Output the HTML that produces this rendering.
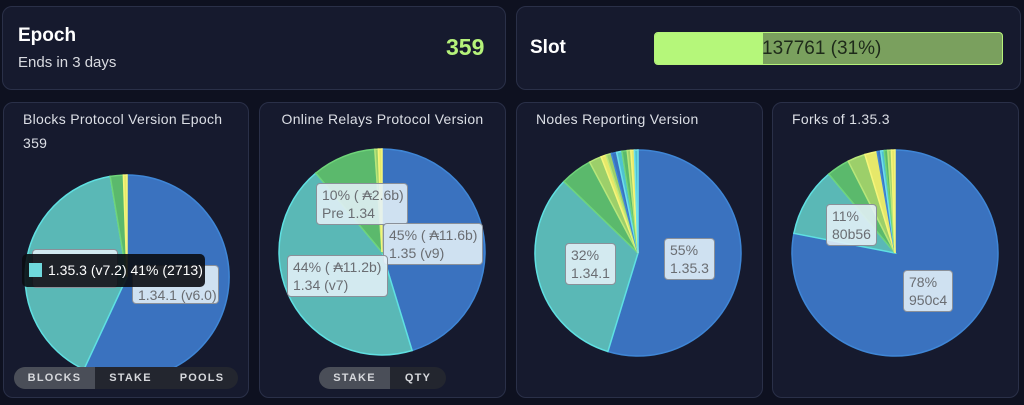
<!DOCTYPE html>
<html><head><meta charset="utf-8"><style>
*{margin:0;padding:0;box-sizing:border-box}
body{width:1024px;height:405px;background:#0e1120;font-family:"Liberation Sans",sans-serif;position:relative;overflow:hidden;color:#e4e6ec}
.card{position:absolute;background:#161a2e;border:1px solid #2a3048;border-radius:10px}
.abs{position:absolute;white-space:nowrap}
.t{font-size:14px;color:#dcdfe6;letter-spacing:0.3px}
.lbl{position:absolute;background:rgba(228,240,248,0.88);border:1px solid #8a9099;border-radius:4px;color:#6a6d72;font-size:14px;line-height:18px;padding:2px 5px;white-space:nowrap}
.pill{position:absolute;height:22px;border-radius:11px;background:#23262f;display:flex;overflow:hidden;font-size:11px;font-weight:bold;letter-spacing:1.2px;color:#d6d8dc}
.pill div{display:flex;align-items:center;justify-content:center}
.pill .on{background:#4a4e58}
svg{position:absolute;left:0;top:0}
</style></head><body>
<div class="card" style="left:2px;top:6px;width:504px;height:84px"></div>
<div class="abs" style="left:18px;top:25px;font-size:19px;font-weight:bold;color:#fff">Epoch</div>
<div class="abs" style="left:18px;top:54px;font-size:15px;color:#d8dae0">Ends in 3 days</div>
<div class="abs" style="left:446px;top:34px;font-size:23px;font-weight:bold;color:#b5f27a">359</div>
<div class="card" style="left:516px;top:6px;width:505px;height:84px"></div>
<div class="abs" style="left:530px;top:37px;font-size:19px;font-weight:bold;color:#fff">Slot</div>
<div class="abs" style="left:654px;top:32px;width:349px;height:33px;border:1px solid #b5f27a;border-radius:4px;background:#7aa05e;overflow:hidden">
 <div style="position:absolute;left:0;top:0;width:108px;height:100%;background:#b5f77a"></div>
 <div style="position:absolute;left:107px;top:5px;font-size:19px;color:#1e2a1a">137761 (31%)</div>
</div>

<div class="card" style="left:3px;top:102px;width:246px;height:296px"></div>
<div class="card" style="left:259px;top:102px;width:247px;height:296px"></div>
<div class="card" style="left:516px;top:102px;width:247px;height:296px"></div>
<div class="card" style="left:772px;top:102px;width:247px;height:296px"></div>

<div class="abs t" style="left:23px;top:111px">Blocks Protocol Version Epoch</div>
<div class="abs t" style="left:23px;top:135px">359</div>
<div class="abs t" style="left:259px;width:247px;text-align:center;top:111px">Online Relays Protocol Version</div>
<div class="abs t" style="left:536px;top:111px">Nodes Reporting Version</div>
<div class="abs t" style="left:792px;top:111px">Forks of 1.35.3</div>

<svg width="1024" height="405" id="s"></svg>

<div class="lbl" style="left:32px;top:249px;width:86px;height:39px"></div>
<div class="lbl" style="left:132px;top:265px;width:87px;height:39px">&nbsp;<br>1.34.1 (v6.0)</div>
<div class="abs" style="left:22px;top:254px;width:183px;height:33px;background:rgba(10,12,18,0.9);border-radius:5px;color:#fff;font-size:14px;line-height:33px;padding-left:26px">1.35.3 (v7.2) 41% (2713)<div style="position:absolute;left:7px;top:9px;width:13px;height:14px;background:#6fd9dc"></div></div>
<div class="pill" style="left:14px;top:367px;width:224px"><div class="on" style="width:81px">BLOCKS</div><div style="width:71px">STAKE</div><div style="width:72px">POOLS</div></div>

<div class="lbl" style="left:316px;top:183px;width:92px">10% ( ₳2.6b)<br>Pre 1.34</div>
<div class="lbl" style="left:383px;top:223px;width:100px">45% ( ₳11.6b)<br>1.35 (v9)</div>
<div class="lbl" style="left:287px;top:255px;width:101px">44% ( ₳11.2b)<br>1.34 (v7)</div>
<div class="pill" style="left:319px;top:367px;width:127px"><div class="on" style="width:71px">STAKE</div><div style="width:56px">QTY</div></div>

<div class="lbl" style="left:565px;top:243px">32%<br>1.34.1</div>
<div class="lbl" style="left:664px;top:238px">55%<br>1.35.3</div>
<div class="lbl" style="left:826px;top:204px">11%<br>80b56</div>
<div class="lbl" style="left:903px;top:270px">78%<br>950c4</div>

<script>
var C={b:['#3a72bf','#3f86d6'],t:['#5ab8b6','#5fe0e2'],g:['#5bb96c','#6fd47a'],l:['#9ccf6a','#b8e67a'],y:['#e6e86a','#f5f57a'],c:['#4fc3d0','#6fe0ea']};
var pies=[
 [127,277,102,[[0,205,'b'],[205,350.5,'t'],[350.5,358,'g'],[358,360,'y']]],
 [382,252,103,[[0,163,'b'],[163,320,'t'],[320,356,'g'],[356,358,'l'],[358,360,'y']]],
 [638,253,103,[[0,197,'b'],[197,314,'t'],[314,332,'g'],[332,339,'l'],[339,342,'y'],[342,345,'l'],[345,348,'b'],[348,351,'c'],[351,354,'g'],[354,356,'l'],[356,358,'y'],[358,360,'c']]],
 [895,253,103,[[0,281,'b'],[281,320,'t'],[320,333,'g'],[333,343,'l'],[343,350,'y'],[350,352,'b'],[352,354,'c'],[354,356,'g'],[356,358,'l'],[358,360,'y']]]
];
var s='';
pies.forEach(function(p){var cx=p[0],cy=p[1],r=p[2];
 if(cx==127) s+='<clipPath id="cp"><rect x="0" y="0" width="260" height="368"/></clipPath><g clip-path="url(#cp)">'; else s+='<g>';
 p[3].forEach(function(q){var a0=(q[0]-90)*Math.PI/180,a1=(q[1]-90)*Math.PI/180;
 var x0=cx+r*Math.cos(a0),y0=cy+r*Math.sin(a0),x1=cx+r*Math.cos(a1),y1=cy+r*Math.sin(a1);
 var lg=(q[1]-q[0])>180?1:0;
 s+='<path d="M'+cx+' '+cy+'L'+x0.toFixed(1)+' '+y0.toFixed(1)+'A'+r+' '+r+' 0 '+lg+' 1 '+x1.toFixed(1)+' '+y1.toFixed(1)+'Z" fill="'+C[q[2]][0]+'" stroke="'+C[q[2]][1]+'" stroke-width="1.5"/>';});
 s+='</g>';});
document.getElementById('s').innerHTML=s;
</script>
</body></html>
